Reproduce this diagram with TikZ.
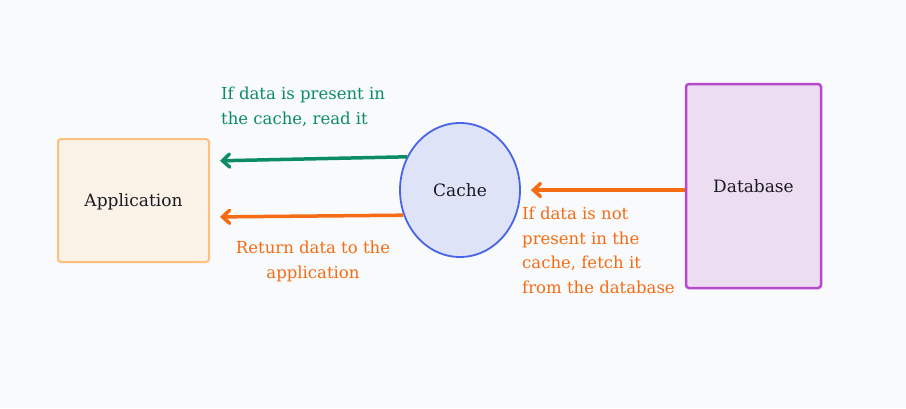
\documentclass[tikz,border=0pt]{standalone}
\usepackage{fontspec}
\setmainfont{DejaVu Serif}
\usetikzlibrary{shapes.geometric,arrows.meta}
\definecolor{bg}{RGB}{248,250,252}
\definecolor{appfill}{RGB}{250,241,231}
\definecolor{appdraw}{RGB}{255,192,125}
\definecolor{cachefill}{RGB}{222,227,247}
\definecolor{cachedraw}{RGB}{72,100,232}
\definecolor{dbfill}{RGB}{237,221,241}
\definecolor{dbdraw}{RGB}{182,72,205}
\definecolor{grn}{RGB}{12,140,100}
\definecolor{org}{RGB}{245,108,20}
\definecolor{ink}{RGB}{25,25,35}
\tikzset{
  nodefont/.style={font=\fontsize{17}{20}\selectfont},
  box/.style={rectangle, rounded corners=3pt, line width=2pt, inner sep=0pt, text=ink, nodefont},
  flow/.style={line width=3.5pt, -{Straight Barb[length=7pt,width=13pt,line cap=round]}, shorten >=10pt},
  lbl/.style={font=\fontsize{16.5}{24.5}\selectfont, inner sep=0pt}
}
\begin{document}
\begin{tikzpicture}[x=1pt,y=-1pt]
\fill[bg] (0,0) rectangle (906,408);
\useasboundingbox (0,0) rectangle (906,408);
\node[box, draw=appdraw, fill=appfill, minimum width=151pt, minimum height=123pt, text depth=-1.5pt] (app) at (133.5,200.5) {Application};
\node[ellipse, draw=cachedraw, fill=cachefill, line width=1.8pt, minimum width=120pt, minimum height=134pt, inner sep=0pt, text=ink, nodefont] (cache) at (460,190) {Cache};
\node[box, draw=dbdraw, fill=dbfill, line width=2.5pt, minimum width=135pt, minimum height=204pt] (db) at (753.5,186) {Database};
\draw[flow, grn] (cache.148.7) -- ([yshift=39.5pt]app.east);
\draw[flow, org] (cache.204.2) -- ([yshift=-16.5pt]app.east);
\draw[flow, org] ([yshift=-4pt]db.west) -- ([yshift=0pt]cache.east);
\node[lbl, text=grn, align=left, anchor=north west] (l1) at (221,87) {If data is present in\\the cache, read it};
\node[lbl, text=org, align=center, anchor=north] (l2) at (313,241) {Return data to the\\application};
\node[lbl, text=org, align=left, anchor=north west] (l3) at (522,207) {If data is not\\present in the\\cache, fetch it\\from the database};
\end{tikzpicture}
\end{document}
